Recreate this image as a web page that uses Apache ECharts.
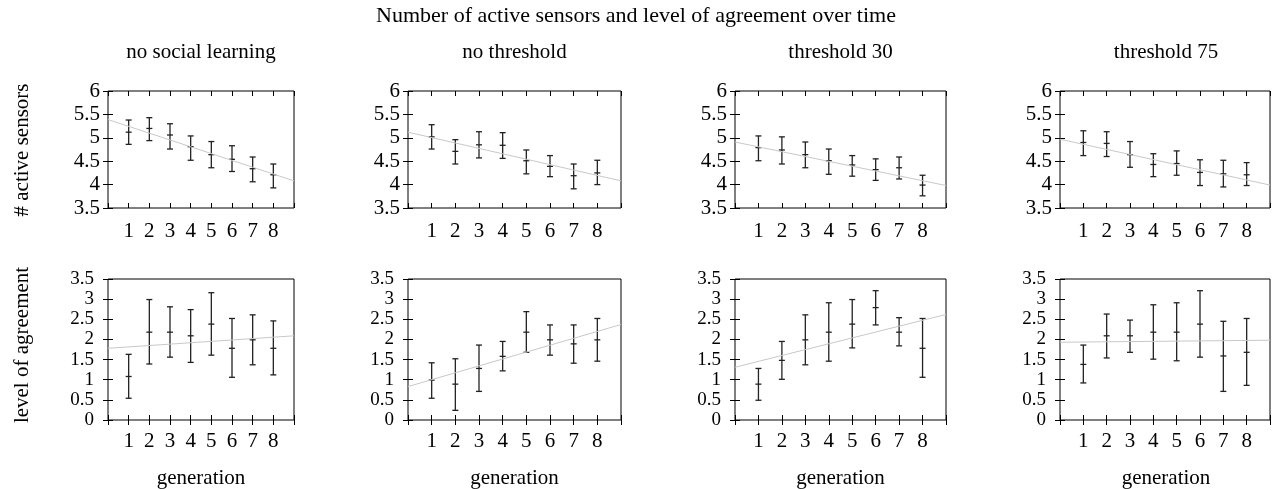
<!DOCTYPE html>
<html>
<head>
<meta charset="utf-8">
<script src="https://cdn.jsdelivr.net/npm/echarts@6/dist/echarts.min.js"></script>
<style>
html, body { margin: 0; padding: 0; background: #fff; }
#chart { width: 1273px; height: 489px; }
</style>
</head>
<body>
<div id="chart"></div>
<script>
var generations = [1, 2, 3, 4, 5, 6, 7, 8];
var panelTitles = ['no social learning', 'no threshold', 'threshold 30', 'threshold 75'];

// # active sensors: mean, bar bottom, bar top, fitted line at x=0 and x=9
var sensorsMean = [
	[5.12, 5.20, 5.06, 4.81, 4.64, 4.54, 4.34, 4.21],
	[5.02, 4.71, 4.85, 4.84, 4.51, 4.39, 4.19, 4.25],
	[4.79, 4.74, 4.64, 4.51, 4.42, 4.32, 4.36, 3.99],
	[4.90, 4.88, 4.64, 4.43, 4.45, 4.26, 4.23, 4.21]
];
var sensorsLow = [
	[4.86, 4.94, 4.76, 4.52, 4.36, 4.28, 4.06, 3.93],
	[4.76, 4.44, 4.57, 4.56, 4.23, 4.17, 3.91, 4.00],
	[4.51, 4.44, 4.36, 4.22, 4.18, 4.09, 4.12, 3.76],
	[4.62, 4.60, 4.37, 4.17, 4.20, 3.98, 3.95, 3.98]
];
var sensorsHigh = [
	[5.38, 5.43, 5.30, 5.04, 4.92, 4.83, 4.59, 4.44],
	[5.28, 4.96, 5.13, 5.11, 4.74, 4.62, 4.44, 4.52],
	[5.04, 5.02, 4.91, 4.76, 4.62, 4.55, 4.59, 4.20],
	[5.15, 5.13, 4.92, 4.66, 4.72, 4.53, 4.52, 4.47]
];
var sensorsFit = [[5.39, 4.08], [5.12, 4.08], [4.91, 3.98], [4.97, 3.99]];

// level of agreement
var agreeMean = [
	[1.08, 2.18, 2.18, 2.09, 2.38, 1.78, 1.99, 1.78],
	[0.99, 0.89, 1.28, 1.58, 2.18, 1.99, 1.89, 1.99],
	[0.89, 1.48, 1.99, 2.18, 2.38, 2.79, 2.18, 1.78],
	[1.38, 2.09, 2.09, 2.18, 2.18, 2.38, 1.59, 1.68]
];
var agreeLow = [
	[0.54, 1.39, 1.56, 1.43, 1.61, 1.06, 1.37, 1.12],
	[0.54, 0.24, 0.71, 1.22, 1.68, 1.61, 1.41, 1.46],
	[0.49, 1.01, 1.37, 1.46, 1.79, 2.36, 1.84, 1.06],
	[0.92, 1.54, 1.68, 1.51, 1.47, 1.56, 0.71, 0.86]
];
var agreeHigh = [
	[1.63, 2.99, 2.81, 2.74, 3.16, 2.52, 2.61, 2.46],
	[1.42, 1.52, 1.86, 1.95, 2.69, 2.36, 2.36, 2.52],
	[1.28, 1.95, 2.61, 2.91, 2.99, 3.21, 2.54, 2.52],
	[1.86, 2.63, 2.48, 2.86, 2.91, 3.21, 2.45, 2.52]
];
var agreeFit = [[1.78, 2.09], [0.83, 2.37], [1.31, 2.62], [1.93, 1.98]];

var FONT = 'Liberation Serif';
var colLeft = [108, 408, 735, 1060];
var colWidth = [186, 213, 211, 212];
var rows = [{ top: 91, height: 117, min: 3.5, max: 6, labelMargin: 8, labelSize: 21 },
	{ top: 279, height: 141, min: 0, max: 3.5, labelMargin: 14, labelSize: 19 }];

var chart = echarts.init(document.getElementById('chart'));

var grids = [], xAxes = [], yAxes = [], series = [], graphics = [];

function errorBars(mean, low, high) {
	var data = [];
	for (var i = 0; i < generations.length; i++) {
		data.push([generations[i], low[i], high[i], mean[i]]);
	}
	return data;
}

function renderBar(params, api) {
	var x = api.value(0);
	var lo = api.coord([x, api.value(1)]);
	var hi = api.coord([x, api.value(2)]);
	var mid = api.coord([x, api.value(3)]);
	var w = 3;
	var st = { stroke: '#222', lineWidth: 1.3 };
	return {
		type: 'group',
		children: [
			{ type: 'line', shape: { x1: lo[0], y1: lo[1], x2: hi[0], y2: hi[1] }, style: st },
			{ type: 'line', shape: { x1: lo[0] - w, y1: lo[1], x2: lo[0] + w, y2: lo[1] }, style: st },
			{ type: 'line', shape: { x1: hi[0] - w, y1: hi[1], x2: hi[0] + w, y2: hi[1] }, style: st },
			{ type: 'line', shape: { x1: mid[0] - w, y1: mid[1], x2: mid[0] + w, y2: mid[1] }, style: st }
		]
	};
}

function label(text, x, y, rotate) {
	return {
		type: 'text', x: x, y: y, rotation: rotate ? Math.PI / 2 : 0,
		style: { text: text, fontFamily: FONT, fontSize: 21, fill: '#000', align: 'center', verticalAlign: 'middle' }
	};
}

var tick = { show: true, inside: true, length: 5, lineStyle: { color: '#000' } };

for (var r = 0; r < 2; r++) {
	for (var c = 0; c < 4; c++) {
		var g = grids.length;
		var row = rows[r];
		grids.push({
			left: colLeft[c], top: row.top, width: colWidth[c], height: row.height,
			show: true, borderColor: '#000', borderWidth: 1, backgroundColor: 'transparent'
		});
		// bottom / left axes with labels
		xAxes.push({
			type: 'value', gridIndex: g, min: 0, max: 9, interval: 1,
			axisLine: { show: false }, axisTick: tick, splitLine: { show: false },
			axisLabel: {
				color: '#000', fontFamily: FONT, fontSize: 21, margin: r === 0 ? 13 : 11,
				formatter: function (v) { return (v >= 1 && v <= 8) ? v : ''; }
			}
		});
		yAxes.push({
			type: 'value', gridIndex: g, min: row.min, max: row.max, interval: 0.5,
			axisLine: { show: false }, axisTick: tick, splitLine: { show: false },
			axisLabel: {
				color: '#000', fontFamily: FONT, fontSize: row.labelSize, margin: row.labelMargin,
				lineHeight: 14, interval: 0,
				showMinLabel: true, showMaxLabel: true, hideOverlap: false
			}
		});
		// mirror ticks on top and right
		xAxes.push({
			type: 'value', gridIndex: g, position: 'top', min: 0, max: 9, interval: 1,
			axisLine: { show: false }, axisLabel: { show: false }, splitLine: { show: false },
			axisTick: tick
		});
		yAxes.push({
			type: 'value', gridIndex: g, position: 'right', min: row.min, max: row.max, interval: 0.5,
			axisLine: { show: false }, axisLabel: { show: false }, splitLine: { show: false },
			axisTick: tick
		});
		var xi = xAxes.length - 2, yi = yAxes.length - 2;
		var fit = r === 0 ? sensorsFit[c] : agreeFit[c];
		series.push({
			type: 'line', xAxisIndex: xi, yAxisIndex: yi, symbol: 'none', silent: true,
			lineStyle: { color: '#c8c8c8', width: 1 },
			data: [[0, fit[0]], [9, fit[1]]]
		});
		series.push({
			type: 'custom', xAxisIndex: xi, yAxisIndex: yi, renderItem: renderBar,
			data: r === 0 ? errorBars(sensorsMean[c], sensorsLow[c], sensorsHigh[c])
				: errorBars(agreeMean[c], agreeLow[c], agreeHigh[c])
		});
		if (r === 0) {
			graphics.push(label(panelTitles[c], colLeft[c] + colWidth[c] / 2, 52));
		} else {
			graphics.push(label('generation', colLeft[c] + colWidth[c] / 2, 478));
		}
	}
}

var mainTitle = label('Number of active sensors and level of agreement over time', 636, 16);
mainTitle.style.fontSize = 22;
graphics.push(mainTitle);
graphics.push(label('# active sensors', 22, 150, true));
graphics.push(label('level of agreement', 22, 345, true));

chart.setOption({
	animation: false,
	grid: grids,
	xAxis: xAxes,
	yAxis: yAxes,
	series: series,
	graphic: graphics
});
</script>
</body>
</html>
